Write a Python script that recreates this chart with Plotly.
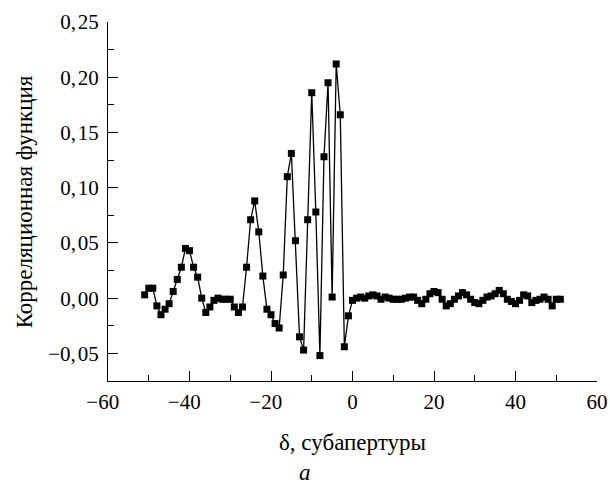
import plotly.graph_objects as go

# lag, in subapertures
delta = [-51, -50, -49, -48, -47, -46, -45, -44, -43, -42, -41, -40, -39, -38, -37,
         -36, -35, -34, -33, -32, -31, -30, -29, -28, -27, -26, -25, -24, -23, -22,
         -21, -20, -19, -18, -17, -16, -15, -14, -13, -12, -11, -10, -9, -8, -7,
         -6, -5, -4, -3, -2, -1, 0, 1, 2, 3, 4, 5, 6, 7, 8,
         9, 10, 11, 12, 13, 14, 15, 16, 17, 18, 19, 20, 21, 22, 23,
         24, 25, 26, 27, 28, 29, 30, 31, 32, 33, 34, 35, 36, 37, 38,
         39, 40, 41, 42, 43, 44, 45, 46, 47, 48, 49, 50, 51]

# correlation function values
corr = [0.003, 0.009, 0.009, -0.007, -0.015, -0.010, -0.005, 0.006, 0.017, 0.028, 0.045, 0.043, 0.028, 0.019, 0.000,
        -0.013, -0.008, -0.002, 0.000, -0.001, -0.001, -0.001, -0.008, -0.013, -0.008, 0.028, 0.071, 0.088, 0.060, 0.020,
        -0.010, -0.015, -0.023, -0.027, 0.021, 0.110, 0.131, 0.052, -0.035, -0.047, 0.071, 0.186, 0.078, -0.052, 0.128,
        0.195, 0.001, 0.212, 0.166, -0.044, -0.016, -0.002, 0.000, 0.001, 0.000, 0.002, 0.003, 0.002, -0.001, 0.001,
        0.000, -0.001, -0.001, -0.001, 0.000, 0.001, 0.001, -0.002, -0.005, -0.001, 0.004, 0.006, 0.005, -0.001, -0.007,
        -0.005, -0.001, 0.002, 0.005, 0.003, -0.001, -0.004, -0.005, -0.002, 0.001, 0.002, 0.004, 0.007, 0.004, -0.001,
        -0.003, -0.005, -0.002, 0.003, 0.002, -0.004, -0.002, -0.001, 0.001, -0.001, -0.007, -0.001, -0.001]

x_tickvals = [-60, -40, -20, 0, 20, 40, 60]
x_ticktext = ["\u221260\u2002", "\u221240\u2002", "\u221220\u2002", "0", "20", "40", "60"]
y_tickvals = [-0.05, 0.0, 0.05, 0.10, 0.15, 0.20, 0.25]
y_ticktext = ["\u22120,\u200a05", "0,\u200a00", "0,\u200a05", "0,\u200a10", "0,\u200a15", "0,\u200a20", "0,\u200a25"]

x_title = "\u03b4, субапертуры"
y_title = "Корреляционная функция"
panel_label = "a"

FONT = "Liberation Serif, Times New Roman, DejaVu Serif, serif"

fig = go.Figure()
fig.add_trace(go.Scatter(
    x=delta, y=corr, mode="lines+markers",
    line=dict(color="black", width=1.3),
    marker=dict(symbol="square", size=7, color="black"),
    showlegend=False,
))

fig.update_layout(
    width=610, height=484,
    margin=dict(l=108, r=13, t=22, b=103),
    paper_bgcolor="white", plot_bgcolor="white",
    font=dict(family=FONT, size=21, color="black"),
    xaxis=dict(
        range=[-60, 60], tickmode="array", tickvals=x_tickvals, ticktext=x_ticktext,
        ticks="inside", ticklen=10, tickwidth=1.2, tickcolor="black",
        showline=True, linecolor="black", linewidth=1.3, showgrid=False, zeroline=False,
        ticklabelstandoff=2, automargin=False, ticklabeloverflow="allow",
        tickfont=dict(family=FONT, size=21),
        minor=dict(dtick=10, tick0=0, ticks="inside", ticklen=6, tickwidth=1.2, tickcolor="black", showgrid=False),
    ),
    yaxis=dict(
        range=[-0.075, 0.25], tickmode="array", tickvals=y_tickvals, ticktext=y_ticktext,
        ticks="inside", ticklen=10, tickwidth=1.2, tickcolor="black",
        showline=True, linecolor="black", linewidth=1.3, showgrid=False, zeroline=False,
        ticklabelstandoff=4, automargin=False, ticklabeloverflow="allow",
        tickfont=dict(family=FONT, size=21),
        minor=dict(dtick=0.025, tick0=0, ticks="inside", ticklen=6, tickwidth=1.2, tickcolor="black", showgrid=False),
    ),
    annotations=[
        dict(text=x_title, xref="paper", yref="paper", x=0.5, y=-0.17,
             xanchor="center", yanchor="middle", showarrow=False, font=dict(family=FONT, size=23)),
        dict(text=y_title, xref="paper", yref="paper", x=-0.17, y=0.5, textangle=-90,
             xanchor="center", yanchor="middle", showarrow=False, font=dict(family=FONT, size=23)),
        dict(text="<i>" + panel_label + "</i>", xref="paper", yref="paper", x=0.403, y=-0.255,
             xanchor="center", yanchor="middle", showarrow=False, font=dict(family=FONT, size=23)),
    ],
)

# remove the default 8 px page margin so the 610x484 figure fills the window exactly
fig.write_html("out.html",
               config={"displayModeBar": False},
               post_script="document.body.style.margin='0';document.body.style.overflow='hidden';")
